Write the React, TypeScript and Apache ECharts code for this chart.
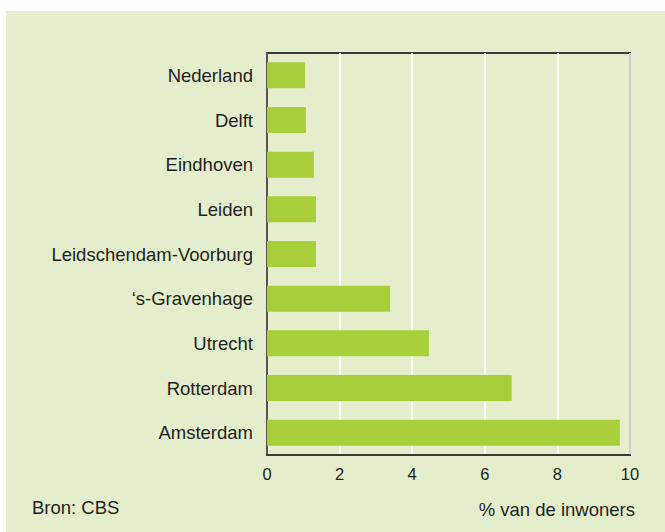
import React, { useEffect, useRef } from "react";
import * as echarts from "echarts";

const categories = [
  "Nederland",
  "Delft",
  "Eindhoven",
  "Leiden",
  "Leidschendam-Voorburg",
  "\u2018s-Gravenhage",
  "Utrecht",
  "Rotterdam",
  "Amsterdam",
];
const values = [1.05, 1.07, 1.29, 1.35, 1.35, 3.39, 4.46, 6.74, 9.72];
const xTicks = [0, 2, 4, 6, 8, 10];
const axisTitle = "% van de inwoners";
const sourceText = "Bron: CBS";

const FONT = "'Liberation Sans', Arial, Helvetica, sans-serif";
const TEXT = "#231f20";

export default function App() {
  const ref = useRef<HTMLDivElement>(null);
  useEffect(() => {
    if (!ref.current) return;
    const chart = echarts.init(ref.current, undefined, { renderer: "svg" });
    chart.setOption({
      animation: false,
      backgroundColor: "#ffffff",
      textStyle: { fontFamily: FONT },
      graphic: [
        {
          type: "rect",
          z: -10,
          silent: true,
          shape: { x: 6, y: 11, width: 659, height: 521 },
          style: { fill: "#e4eecd" },
        },
        {
          type: "text",
          left: 32,
          top: 498,
          style: { text: sourceText, fill: TEXT, font: `18.5px ${FONT}` },
        },
        {
          type: "text",
          right: 30,
          top: 500,
          style: { text: axisTitle, fill: TEXT, font: `18.5px ${FONT}` },
        },
      ],
      grid: {
        left: 267,
        right: 35,
        top: 53,
        bottom: 77,
        show: true,
        borderColor: "#3a3a3a",
        borderWidth: 2,
        backgroundColor: "transparent",
      },
      xAxis: {
        type: "value",
        min: 0,
        max: 10,
        interval: 2,
        axisLine: { show: true, lineStyle: { color: "#3a3a3a", width: 2 } },
        axisTick: { show: false },
        axisLabel: {
          color: TEXT,
          fontSize: 16.5,
          fontFamily: FONT,
          margin: 10,
          formatter: (v: number) => (xTicks.includes(v) ? String(v) : ""),
        },
        splitLine: { show: true, lineStyle: { color: "#ffffff", width: 1.5 } },
      },
      yAxis: {
        type: "category",
        data: categories,
        inverse: true,
        axisLine: { show: true, lineStyle: { color: "#555555", width: 2 } },
        axisTick: { show: false },
        axisLabel: { color: TEXT, fontSize: 18.5, fontFamily: FONT, margin: 14 },
        splitLine: { show: false },
      },
      series: [
        {
          type: "bar",
          data: values,
          barWidth: 26,
          itemStyle: { color: "#a8cf3a" },
          z: 2,
        },
      ],
    });
    return () => chart.dispose();
  }, []);
  return (
    <div
      ref={ref}
      style={{ position: "absolute", left: 0, top: 0, width: 665, height: 532 }}
    />
  );
}
